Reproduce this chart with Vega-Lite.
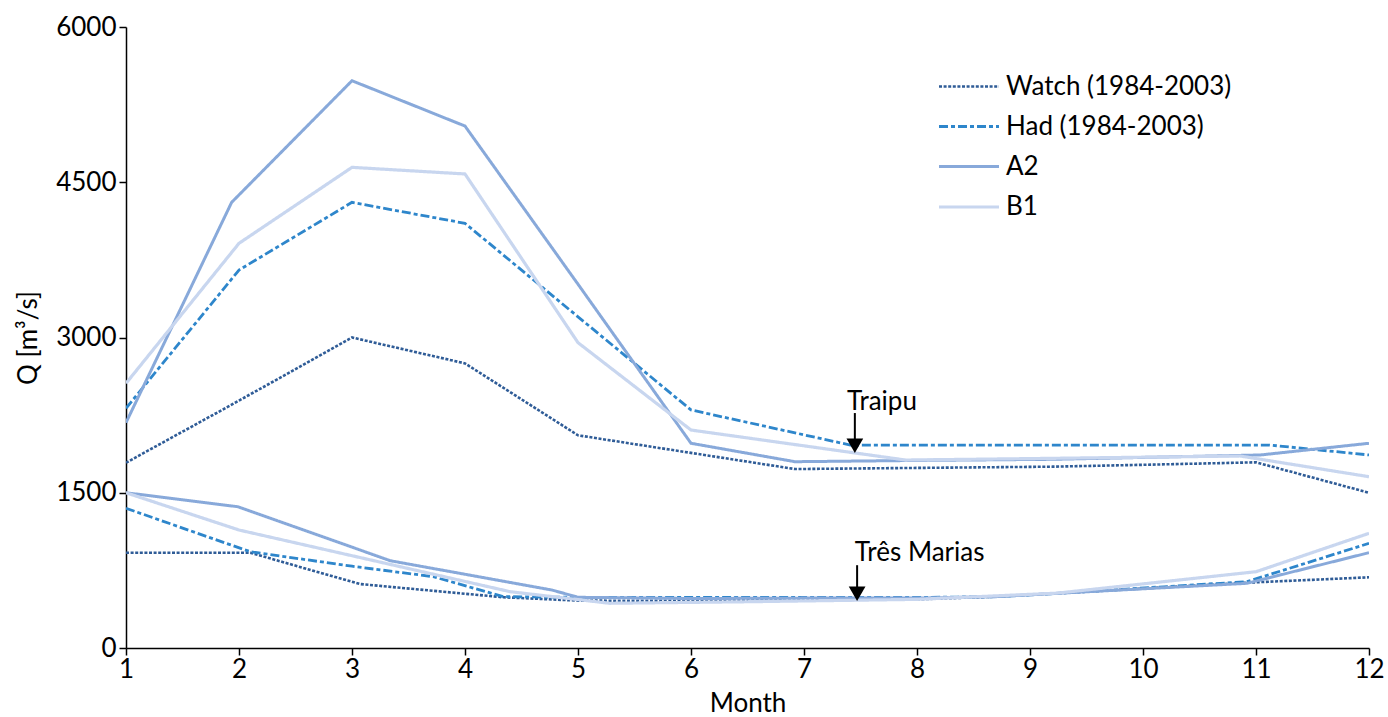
{
  "$schema": "https://vega.github.io/schema/vega-lite/v6.json",
  "width": 1243,
  "height": 621,
  "autosize": {"type": "none"},
  "padding": {"left": 126, "top": 27, "right": 19, "bottom": 69},
  "background": "white",
  "config": {
    "font": "Lato",
    "view": {"stroke": null},
    "axis": {"grid": false, "domainColor": "black", "tickColor": "black", "labelColor": "black", "titleColor": "black", "labelFont": "Lato", "titleFont": "Lato", "labelFontSize": 26, "titleFontSize": 26, "titleFontWeight": "normal", "domainWidth": 1.5, "tickWidth": 1.5, "labelFlush": false}
  },
  "layer": [
    {
      "data": {"values": [
        {"series": "Watch (1984-2003)", "station": "Traipu", "month": 1, "q": 1790},
        {"series": "Watch (1984-2003)", "station": "Traipu", "month": 2, "q": 2390},
        {"series": "Watch (1984-2003)", "station": "Traipu", "month": 3, "q": 3000},
        {"series": "Watch (1984-2003)", "station": "Traipu", "month": 4, "q": 2750},
        {"series": "Watch (1984-2003)", "station": "Traipu", "month": 5, "q": 2055},
        {"series": "Watch (1984-2003)", "station": "Traipu", "month": 6, "q": 1885},
        {"series": "Watch (1984-2003)", "station": "Traipu", "month": 6.92, "q": 1729},
        {"series": "Watch (1984-2003)", "station": "Traipu", "month": 8, "q": 1740},
        {"series": "Watch (1984-2003)", "station": "Traipu", "month": 9.2, "q": 1752},
        {"series": "Watch (1984-2003)", "station": "Traipu", "month": 10, "q": 1770},
        {"series": "Watch (1984-2003)", "station": "Traipu", "month": 11, "q": 1794},
        {"series": "Watch (1984-2003)", "station": "Traipu", "month": 12, "q": 1500},
        {"series": "Had (1984-2003)", "station": "Traipu", "month": 1, "q": 2316},
        {"series": "Had (1984-2003)", "station": "Traipu", "month": 2, "q": 3652},
        {"series": "Had (1984-2003)", "station": "Traipu", "month": 3, "q": 4306},
        {"series": "Had (1984-2003)", "station": "Traipu", "month": 4, "q": 4103},
        {"series": "Had (1984-2003)", "station": "Traipu", "month": 5, "q": 3200},
        {"series": "Had (1984-2003)", "station": "Traipu", "month": 6, "q": 2300},
        {"series": "Had (1984-2003)", "station": "Traipu", "month": 7.41, "q": 1961},
        {"series": "Had (1984-2003)", "station": "Traipu", "month": 9, "q": 1961},
        {"series": "Had (1984-2003)", "station": "Traipu", "month": 11.12, "q": 1961},
        {"series": "Had (1984-2003)", "station": "Traipu", "month": 12, "q": 1865},
        {"series": "A2", "station": "Traipu", "month": 1, "q": 2177},
        {"series": "A2", "station": "Traipu", "month": 1.935, "q": 4306},
        {"series": "A2", "station": "Traipu", "month": 3, "q": 5481},
        {"series": "A2", "station": "Traipu", "month": 4, "q": 5043},
        {"series": "A2", "station": "Traipu", "month": 5, "q": 3515},
        {"series": "A2", "station": "Traipu", "month": 6, "q": 1978},
        {"series": "A2", "station": "Traipu", "month": 6.92, "q": 1800},
        {"series": "A2", "station": "Traipu", "month": 8, "q": 1812},
        {"series": "A2", "station": "Traipu", "month": 9.2, "q": 1823},
        {"series": "A2", "station": "Traipu", "month": 11.04, "q": 1865},
        {"series": "A2", "station": "Traipu", "month": 12, "q": 1978},
        {"series": "B1", "station": "Traipu", "month": 1, "q": 2557},
        {"series": "B1", "station": "Traipu", "month": 2, "q": 3910},
        {"series": "B1", "station": "Traipu", "month": 3, "q": 4644},
        {"series": "B1", "station": "Traipu", "month": 4, "q": 4580},
        {"series": "B1", "station": "Traipu", "month": 5, "q": 2950},
        {"series": "B1", "station": "Traipu", "month": 6, "q": 2106},
        {"series": "B1", "station": "Traipu", "month": 7.9, "q": 1816},
        {"series": "B1", "station": "Traipu", "month": 9, "q": 1830},
        {"series": "B1", "station": "Traipu", "month": 10.86, "q": 1855},
        {"series": "B1", "station": "Traipu", "month": 12, "q": 1655},
        {"series": "Watch (1984-2003)", "station": "Três Marias", "month": 1, "q": 920},
        {"series": "Watch (1984-2003)", "station": "Três Marias", "month": 2.1, "q": 920},
        {"series": "Watch (1984-2003)", "station": "Três Marias", "month": 3.07, "q": 618},
        {"series": "Watch (1984-2003)", "station": "Três Marias", "month": 4.34, "q": 490},
        {"series": "Watch (1984-2003)", "station": "Três Marias", "month": 5, "q": 458},
        {"series": "Watch (1984-2003)", "station": "Três Marias", "month": 6, "q": 455},
        {"series": "Watch (1984-2003)", "station": "Três Marias", "month": 7, "q": 462},
        {"series": "Watch (1984-2003)", "station": "Três Marias", "month": 8, "q": 470},
        {"series": "Watch (1984-2003)", "station": "Três Marias", "month": 8.7, "q": 496},
        {"series": "Watch (1984-2003)", "station": "Três Marias", "month": 9.24, "q": 528},
        {"series": "Watch (1984-2003)", "station": "Três Marias", "month": 10.92, "q": 631},
        {"series": "Watch (1984-2003)", "station": "Três Marias", "month": 12, "q": 683},
        {"series": "Had (1984-2003)", "station": "Três Marias", "month": 1, "q": 1350},
        {"series": "Had (1984-2003)", "station": "Três Marias", "month": 2.1, "q": 930},
        {"series": "Had (1984-2003)", "station": "Três Marias", "month": 3, "q": 790},
        {"series": "Had (1984-2003)", "station": "Três Marias", "month": 3.72, "q": 689},
        {"series": "Had (1984-2003)", "station": "Três Marias", "month": 4.34, "q": 496},
        {"series": "Had (1984-2003)", "station": "Três Marias", "month": 5, "q": 490},
        {"series": "Had (1984-2003)", "station": "Três Marias", "month": 6, "q": 490},
        {"series": "Had (1984-2003)", "station": "Três Marias", "month": 7, "q": 488},
        {"series": "Had (1984-2003)", "station": "Três Marias", "month": 8, "q": 488},
        {"series": "Had (1984-2003)", "station": "Três Marias", "month": 8.7, "q": 496},
        {"series": "Had (1984-2003)", "station": "Três Marias", "month": 9.24, "q": 528},
        {"series": "Had (1984-2003)", "station": "Três Marias", "month": 10.92, "q": 641},
        {"series": "Had (1984-2003)", "station": "Três Marias", "month": 12, "q": 1011},
        {"series": "A2", "station": "Três Marias", "month": 1, "q": 1500},
        {"series": "A2", "station": "Três Marias", "month": 1.99, "q": 1365},
        {"series": "A2", "station": "Três Marias", "month": 3.34, "q": 843},
        {"series": "A2", "station": "Três Marias", "month": 4.77, "q": 560},
        {"series": "A2", "station": "Três Marias", "month": 5, "q": 490},
        {"series": "A2", "station": "Três Marias", "month": 6, "q": 478},
        {"series": "A2", "station": "Três Marias", "month": 7, "q": 482},
        {"series": "A2", "station": "Três Marias", "month": 8, "q": 482},
        {"series": "A2", "station": "Três Marias", "month": 8.7, "q": 496},
        {"series": "A2", "station": "Três Marias", "month": 9.24, "q": 528},
        {"series": "A2", "station": "Três Marias", "month": 10.92, "q": 625},
        {"series": "A2", "station": "Três Marias", "month": 12, "q": 921},
        {"series": "B1", "station": "Três Marias", "month": 1, "q": 1500},
        {"series": "B1", "station": "Três Marias", "month": 2, "q": 1140},
        {"series": "B1", "station": "Três Marias", "month": 4.4, "q": 544},
        {"series": "B1", "station": "Três Marias", "month": 5.28, "q": 432},
        {"series": "B1", "station": "Três Marias", "month": 6.5, "q": 447},
        {"series": "B1", "station": "Três Marias", "month": 8, "q": 470},
        {"series": "B1", "station": "Três Marias", "month": 9.24, "q": 530},
        {"series": "B1", "station": "Três Marias", "month": 11, "q": 737},
        {"series": "B1", "station": "Três Marias", "month": 12, "q": 1108}
      ]},
      "mark": {"type": "line", "clip": true},
      "encoding": {
        "x": {"field": "month", "type": "quantitative", "scale": {"domain": [1, 12], "nice": false, "zero": false}, "axis": {"title": "Month", "values": [1,2,3,4,5,6,7,8,9,10,11,12], "format": "d", "tickSize": 7, "labelPadding": 1, "titlePadding": 8}},
        "y": {"field": "q", "type": "quantitative", "scale": {"domain": [0, 6000], "nice": false}, "axis": {"title": "Q [m³/s]", "values": [0,1500,3000,4500,6000], "format": "d", "tickSize": 7, "labelPadding": 3, "titlePadding": 14}},
        "detail": {"field": "station"},
        "color": {"field": "series", "type": "nominal", "scale": {"domain": ["Watch (1984-2003)", "Had (1984-2003)", "A2", "B1"], "range": ["#2F5C97", "#2E86CB", "#88A9DA", "#C8D6EF"]},
          "legend": {"title": null, "orient": "none", "legendX": 816, "legendY": 33, "symbolType": "M-1.2,0H1.2", "symbolSize": 2500, "labelFontSize": 26, "labelFont": "Lato", "labelColor": "black", "labelOffset": 10, "rowPadding": 0, "labelLimit": 400}},
        "strokeDash": {"field": "series", "type": "nominal", "scale": {"domain": ["Watch (1984-2003)", "Had (1984-2003)", "A2", "B1"], "range": [[3, 1.6], [9, 3, 4, 3], [1, 0], [1, 0]]},
          "legend": {"title": null, "orient": "none", "legendX": 816, "legendY": 33, "symbolType": "M-1.2,0H1.2", "symbolSize": 2500, "labelFontSize": 26, "labelFont": "Lato", "labelColor": "black", "labelOffset": 10, "rowPadding": 0, "labelLimit": 400}},
        "strokeWidth": {"field": "series", "type": "nominal", "scale": {"domain": ["Watch (1984-2003)", "Had (1984-2003)", "A2", "B1"], "range": [2.6, 3.2, 1.2, 1.2]},
          "legend": {"title": null, "orient": "none", "legendX": 816, "legendY": 33, "symbolType": "M-1.2,0H1.2", "symbolSize": 2500, "labelFontSize": 26, "labelFont": "Lato", "labelColor": "black", "labelOffset": 10, "rowPadding": 0, "labelLimit": 400}}
      }
    },
    {
      "data": {"values": [
        {"label": "Traipu", "month": 7.45, "q": 2270, "q2": 2000},
        {"label": "Três Marias", "month": 7.47, "q": 800, "q2": 570}
      ]},
      "mark": {"type": "rule", "color": "black", "strokeWidth": 2},
      "encoding": {
        "x": {"field": "month", "type": "quantitative"},
        "y": {"field": "q", "type": "quantitative"},
        "y2": {"field": "q2"}
      }
    },
    {
      "data": {"values": [
        {"label": "Traipu", "month": 7.45, "q": 1955},
        {"label": "Três Marias", "month": 7.47, "q": 525}
      ]},
      "mark": {"type": "point", "shape": "triangle-down", "filled": true, "color": "black", "opacity": 1, "size": 280},
      "encoding": {
        "x": {"field": "month", "type": "quantitative"},
        "y": {"field": "q", "type": "quantitative"}
      }
    },
    {
      "data": {"values": [
        {"label": "Traipu", "month": 7.38, "q": 2300},
        {"label": "Três Marias", "month": 7.45, "q": 840}
      ]},
      "mark": {"type": "text", "align": "left", "baseline": "alphabetic", "fontSize": 26, "font": "Lato", "color": "black"},
      "encoding": {
        "x": {"field": "month", "type": "quantitative"},
        "y": {"field": "q", "type": "quantitative"},
        "text": {"field": "label"}
      }
    }
  ]
}
